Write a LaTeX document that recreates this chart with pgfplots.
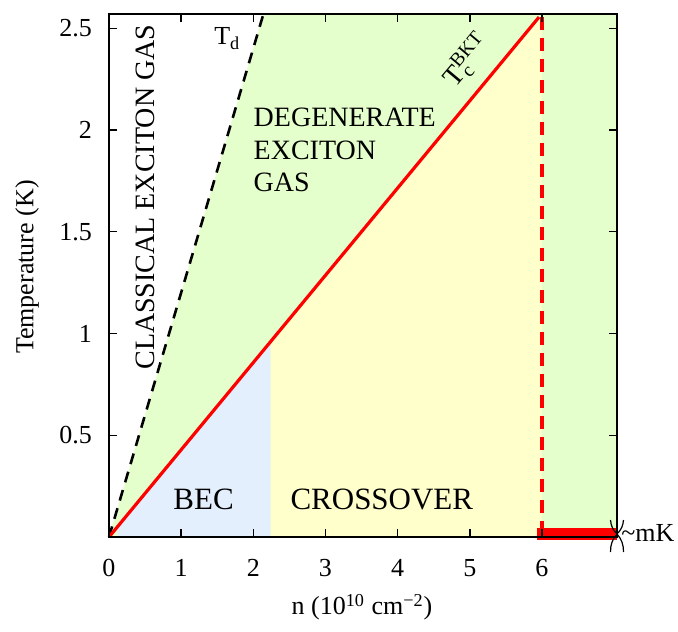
\documentclass[border=0pt]{standalone}
\usepackage{fontspec}
\setmainfont{Liberation Serif}
\usepackage{pgfplots}
\pgfplotsset{compat=1.18}

\definecolor{degen}{RGB}{229,255,204}
\definecolor{bec}{RGB}{227,239,253}
\definecolor{cross}{RGB}{255,255,204}

\newcommand{\tk}{\fontsize{13}{15}\selectfont}
\newcommand{\regfont}{\fontsize{14}{16}\selectfont}

\begin{document}
\begin{tikzpicture}
\useasboundingbox (-54.5pt,-47pt) rectangle (284.5pt,268.5pt);
\begin{axis}[
  scale only axis, width=254pt, height=261.5pt,
  xmin=0, xmax=7.04, ymin=0, ymax=2.57,
  axis on top, clip=false, no marks,
  xtick={0,...,6}, ytick={0.5,1,1.5,2,2.5},
  tick align=inside, major tick length=4pt,
  axis line style={line width=0.7pt}, tick style={black, line width=0.7pt},
  ticklabel style={font=\tk}, /pgf/number format/assume math mode=true,
  xticklabel style={yshift=-7.5pt}, yticklabel style={xshift=-5pt},
  xlabel={n (10\textsuperscript{10} cm\textsuperscript{−2})},
  ylabel={Temperature (K)},
  every axis x label/.style={at={(axis description cs:0.498,-0.134)}, anchor=center, font=\tk},
  every axis y label/.style={at={(axis description cs:-0.161,0.516)}, rotate=90, anchor=center, font=\tk},
]
% regions
\addplot[draw=none, fill=degen] coordinates {(0,0) (2.14,2.57) (7.04,2.57) (7.04,0)} -- cycle;
\addplot[draw=none, fill=bec] coordinates {(0.12,0) (0.12,0.051) (2.24,0.960) (2.24,0)} -- cycle;
\addplot[draw=none, fill=cross] coordinates {(2.24,0) (2.24,0.960) (5.96,2.555) (6.0,2.555) (6.0,0)} -- cycle;

% boundaries
\addplot[black, line width=1.3pt, dash pattern=on 5.5pt off 4pt] coordinates {(0,0) (2.14,2.57)};
\addplot[red, line width=1.6pt] coordinates {(0,0) (5.96,2.555)};
\addplot[red, line width=2pt, dash pattern=on 6.5pt off 4pt] coordinates {(6.0,2.555) (6.0,0)};
\addplot[draw=none, fill=red] coordinates {(5.93,-0.015) (7.04,-0.015) (7.04,0.044) (5.93,0.044)} -- cycle;

% axis break
\draw[line width=0.6pt, shift={(axis cs:7.04,0)}] (-3.25pt,8.5pt) to[bend right=20] (0,0) to[bend right=20] (-3.25pt,-7.5pt);
\draw[line width=0.6pt, shift={(axis cs:7.04,0)}] (3.25pt,8.5pt) to[bend left=20] (0,0) to[bend left=20] (3.25pt,-7.5pt);
\node[anchor=west, font=\tk, inner sep=0pt] at ([xshift=2pt,yshift=2pt]axis cs:7.04,0) {\textasciitilde mK};

% labels
\node[rotate=90, font=\regfont] at (axis cs:0.51,1.67) {CLASSICAL EXCITON GAS};
\node[font=\tk] at (axis cs:1.64,2.45) {T\textsubscript{d}};
\node[anchor=base west, font=\regfont, inner sep=0pt] at (axis cs:2.0,2.015) {DEGENERATE};
\node[anchor=base west, font=\regfont, inner sep=0pt] at (axis cs:2.0,1.853) {EXCITON};
\node[anchor=base west, font=\regfont, inner sep=0pt] at (axis cs:2.0,1.70) {GAS};
\node[rotate=50, font=\fontsize{14}{16}\selectfont] at (axis cs:5.0,2.36) {T\rlap{\textsuperscript{BKT}}\textsubscript{c}\phantom{\textsuperscript{BKT}}};
\node[anchor=base, font=\fontsize{15.5}{17}\selectfont, inner sep=0pt] at (axis cs:1.31,0.133) {BEC};
\node[anchor=base west, font=\fontsize{15.5}{17}\selectfont, inner sep=0pt] at (axis cs:2.51,0.133) {CROSSOVER};
\end{axis}
\end{tikzpicture}
\end{document}
